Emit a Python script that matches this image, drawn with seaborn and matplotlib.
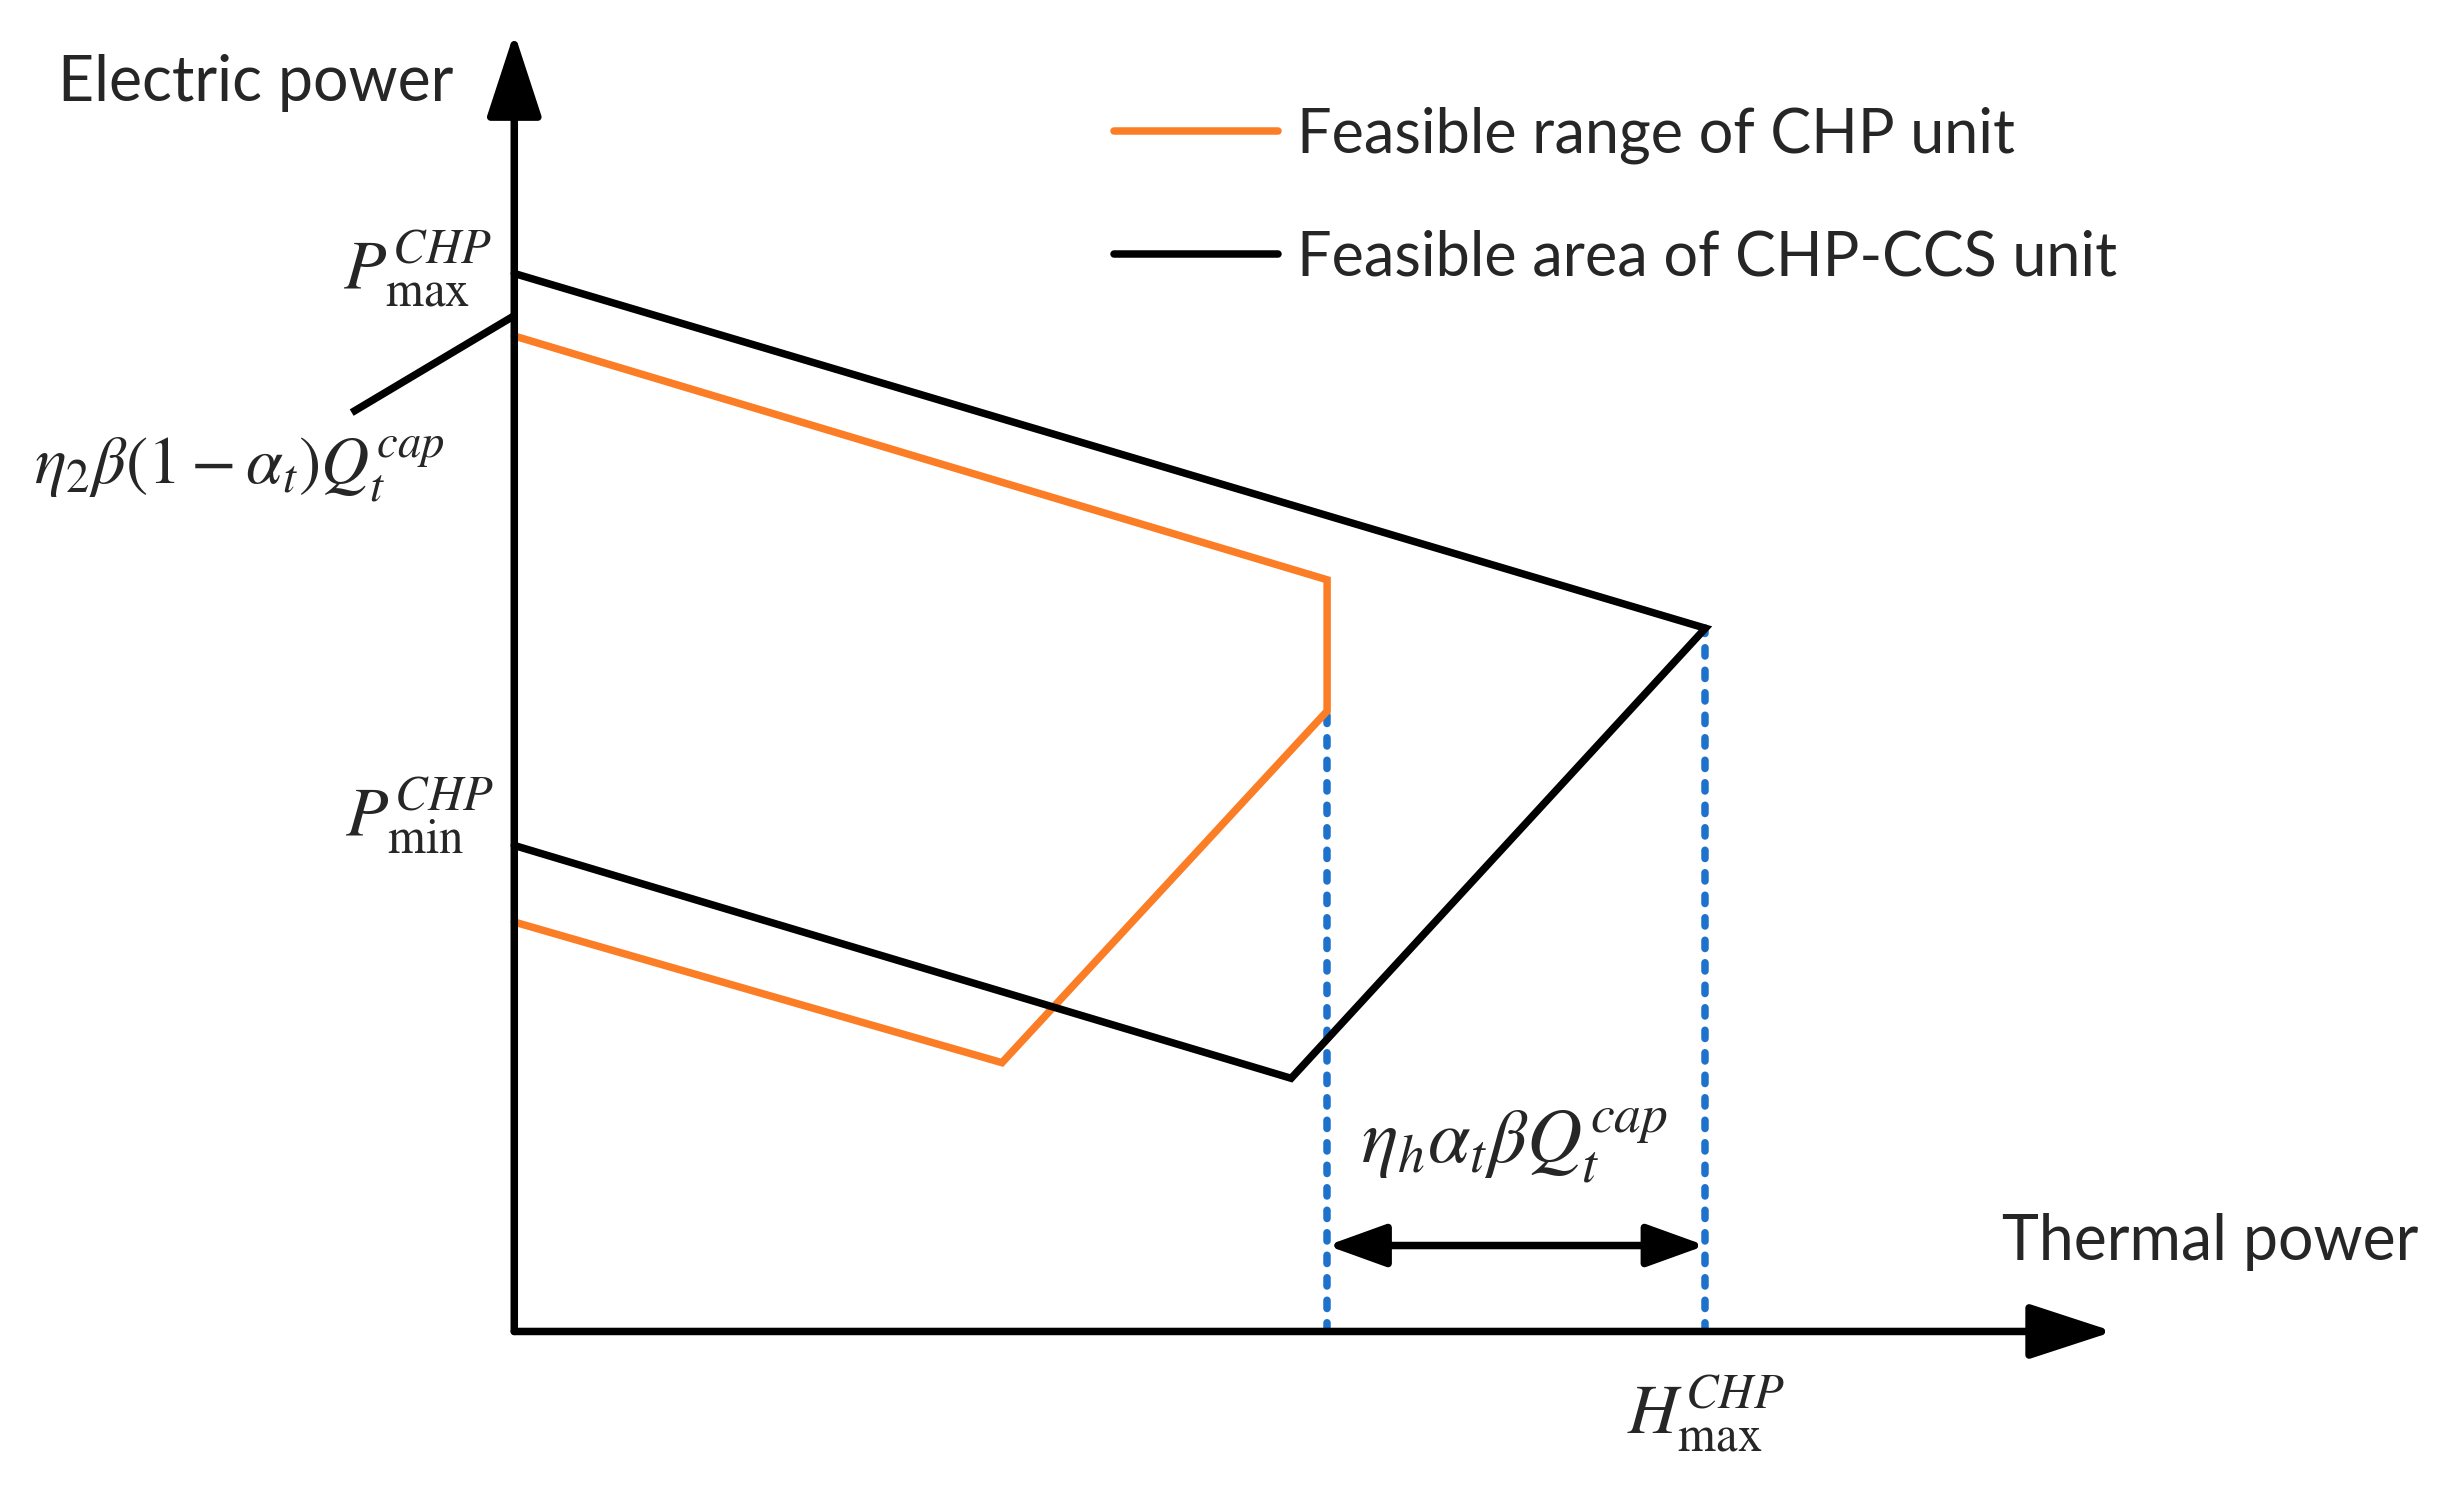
import matplotlib
matplotlib.use('Agg')
import matplotlib.pyplot as plt
import seaborn as sns

sns.set_style('white')
plt.rcParams['font.family'] = ['Lato', 'DejaVu Sans']
plt.rcParams['mathtext.fontset'] = 'stix'

# schematic values (thermal power H, electric power P), picture units
ccs_h = [0, 762, 497, 0]
ccs_p = [677, 450, 162, 311]
chp_h = [0, 520, 520, 312, 0]
chp_p = [637, 481, 397, 172, 262]
guide_h = [520, 762]
guide_top = [397, 450]
leader_h = [-104, 0]
leader_p = [588, 650]
span_p = 55
h_axis_end = 1023
p_axis_end = 831

labels = ['Feasible range of CHP unit', 'Feasible area of CHP-CCS unit']
orange = '#FB7D26'
blue = '#1E72CC'
lw = 5.4

fig = plt.figure(figsize=(24.51, 14.94), dpi=100)
ax = fig.add_axes([0, 0, 1, 1])
ax.set_xlim(-329, 1239)
ax.set_ylim(-104, 852)
ax.axis('off')

# feasible regions
sns.lineplot(x=chp_h, y=chp_p, sort=False, estimator=None, color=orange,
             linewidth=lw, label=labels[0], ax=ax, solid_joinstyle='miter')
sns.lineplot(x=ccs_h, y=ccs_p, sort=False, estimator=None, color='black',
             linewidth=lw, label=labels[1], ax=ax, solid_joinstyle='miter')
sns.lineplot(x=leader_h, y=leader_p, sort=False, estimator=None, color='black',
             linewidth=lw, ax=ax, solid_capstyle='butt')

# dotted guides down to the thermal axis
for h, top in zip(guide_h, guide_top):
    ax.plot([h, h], [0, top], color=blue, linewidth=5.4,
            linestyle=(0, (1.1, 1.9)), dash_capstyle='round', zorder=1)

# axes with arrowheads
ax_style = '-|>,head_length=2.6,head_width=0.85'
ax.annotate('', xy=(0, p_axis_end), xytext=(0, 0),
            arrowprops=dict(arrowstyle=ax_style, color='black', lw=lw,
                            mutation_scale=20, shrinkA=0, shrinkB=0))
ax.annotate('', xy=(h_axis_end, 0), xytext=(0, 0),
            arrowprops=dict(arrowstyle=ax_style, color='black', lw=lw,
                            mutation_scale=20, shrinkA=0, shrinkB=0))

# span arrow
ax.annotate('', xy=(guide_h[1], span_p), xytext=(guide_h[0], span_p),
            arrowprops=dict(arrowstyle='<|-|>,head_length=1.8,head_width=0.65',
                            color='black', lw=lw, mutation_scale=20,
                            shrinkA=0, shrinkB=0))

# axis titles
ax.text(-292, 799, 'Electric power', fontsize=45, ha='left', va='center')
ax.text(1218, 57, 'Thermal power', fontsize=45, ha='right', va='center')

# math labels
ax.text(-14, 680, r'$P_{\max}^{CHP}$', fontsize=50, ha='right', va='center')
ax.text(-13, 330, r'$P_{\min}^{CHP}$', fontsize=50, ha='right', va='center')
ax.text(-307, 551, r'$\eta_2\beta(1-\alpha_t)Q_t^{cap}$', fontsize=48,
        ha='left', va='center')
ax.text(640, 119, r'$\eta_h\alpha_t\beta Q_t^{cap}$', fontsize=55,
        ha='center', va='center')
ax.text(762, -53, r'$H_{\max}^{CHP}$', fontsize=50, ha='center', va='center')

ax.legend(loc='center left', bbox_to_anchor=(0.4547, 0.8685), frameon=False,
          fontsize=44, handlelength=2.68, handletextpad=0.3, labelspacing=1.08,
          borderpad=0, borderaxespad=0)

fig.savefig('out.png', dpi=100)
